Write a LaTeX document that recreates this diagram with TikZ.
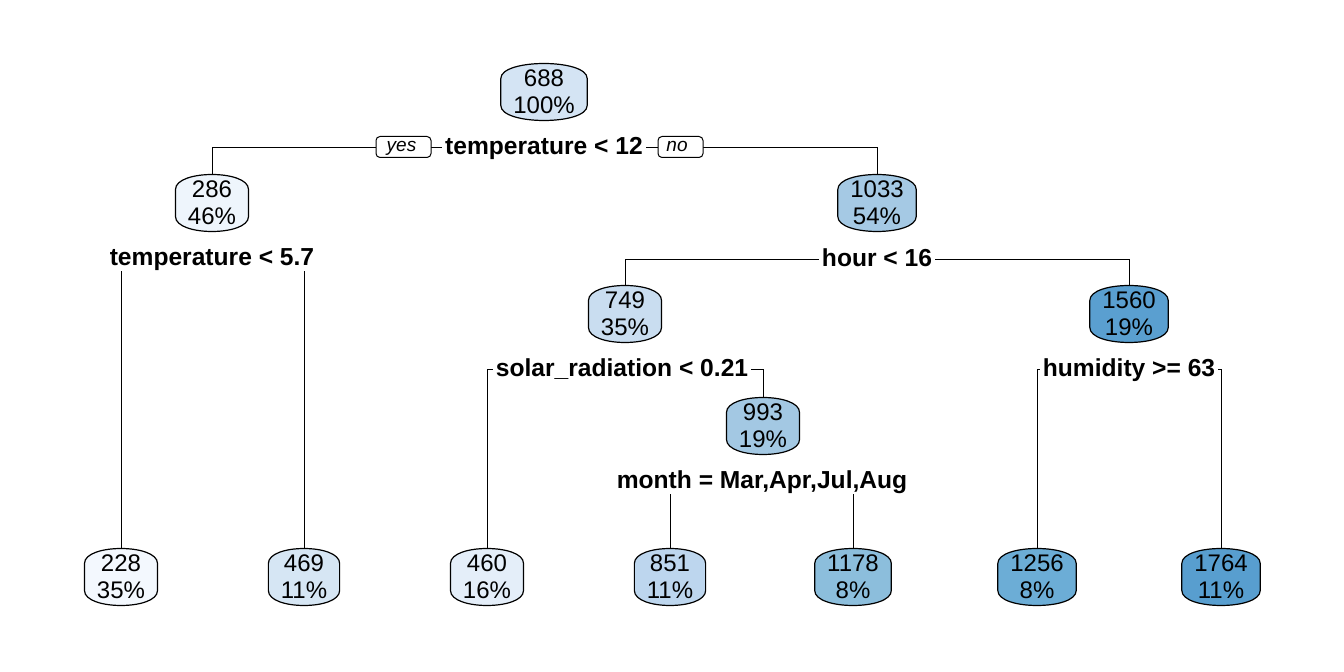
\documentclass[tikz,border=0pt]{standalone}
\usepackage{fontspec}
\setmainfont{Liberation Sans}
\usetikzlibrary{backgrounds}

\definecolor{fill228}{HTML}{F3F8FE}
\definecolor{fill286}{HTML}{EEF5FC}
\definecolor{fill460}{HTML}{E4EEF9}
\definecolor{fill469}{HTML}{D6E6F4}
\definecolor{fill688}{HTML}{D4E4F4}
\definecolor{fill749}{HTML}{C9DDF0}
\definecolor{fill851}{HTML}{BDD6EE}
\definecolor{fill993}{HTML}{A3C8E3}
\definecolor{fill1033}{HTML}{A5C9E4}
\definecolor{fill1178}{HTML}{8CBEDC}
\definecolor{fill1256}{HTML}{6CADD6}
\definecolor{fill1560}{HTML}{5A9FD0}
\definecolor{fill1764}{HTML}{589ECF}

\tikzstyle{fitted}=[align=center, inner xsep=6pt, inner ysep=0pt, minimum height=28pt, font=\fontsize{12}{13.5}\selectfont]
\tikzstyle{split}=[fill=white, inner xsep=1.5pt, inner ysep=1pt, text height=9.5pt, text depth=2pt, font=\fontsize{12.3}{14}\selectfont\bfseries]
\tikzstyle{answer}=[draw, fill=white, rounded corners=2pt, inner xsep=0pt, inner ysep=0pt, minimum height=10.5pt, text height=7pt, text depth=2pt, font=\fontsize{9.5}{11}\selectfont\itshape]

\begin{document}
\begin{tikzpicture}[x=0.5pt, y=-0.5pt, line width=0.5pt]
	\useasboundingbox (0,0) rectangle (1344,672);

	% fitted values and shares
	\node[fitted] (n688)  at ( 544, 92) {688\\100\%};
	\node[fitted] (n286)  at ( 212,203) {286\\46\%};
	\node[fitted] (n1033) at ( 877,203) {1033\\54\%};
	\node[fitted] (n749)  at ( 625,314) {749\\35\%};
	\node[fitted] (n1560) at (1129,314) {1560\\19\%};
	\node[fitted] (n993)  at ( 763,426) {993\\19\%};

	\node[fitted] (n228)  at ( 121,577) {228\\35\%};
	\node[fitted] (n469)  at ( 304,577) {469\\11\%};
	\node[fitted] (n460)  at ( 487,577) {460\\16\%};
	\node[fitted] (n851)  at ( 670,577) {851\\11\%};
	\node[fitted] (n1178) at ( 853,577) {1178\\8\%};
	\node[fitted] (n1256) at (1037,577) {1256\\8\%};
	\node[fitted] (n1764) at (1221,577) {1764\\11\%};

	% split rules
	\node[split] (temp12)  at ( 544,147) {temperature < 12};
	\node[split] (temp57)  at ( 212,258) {temperature < 5.7};
	\node[split] (hour)    at ( 877,259) {hour < 16};
	\node[split] (solar)   at ( 622,369) {solar\_radiation < 0.21};
	\node[split] (humid)   at (1129,369) {humidity >= 63};
	\node[split] (month)   at ( 762,481) {month = Mar,Apr,Jul,Aug};

	\node[answer, minimum width=27.5pt] (yes) at (403.5,147) {\hspace*{-2pt}yes};
	\node[answer, minimum width=22.5pt] (no)  at (680.5,147) {\hspace*{-3.5pt}no};

	\begin{scope}[on background layer]
		\foreach \s/\l/\r in {temp12/n286/n1033, temp57/n228/n469, hour/n749/n1560,
		                      solar/n460/n993, humid/n1256/n1764, month/n851/n1178}{
			\draw (\s.center) -| (\l.north);
			\draw (\s.center) -| (\r.north);
		}

		% barrel shaped boxes
		\foreach \n in {688, 286, 1033, 749, 1560, 993, 228, 469, 460, 851, 1178, 1256, 1764}{
			\draw[fill=fill\n, line width=0.6pt]
				([yshift=-7.5pt]n\n.north west) .. controls ([yshift=2.5pt]n\n.north west) and ([yshift=2.5pt]n\n.north east) .. ([yshift=-7.5pt]n\n.north east)
				-- ([yshift=7.5pt]n\n.south east) .. controls ([yshift=-2.5pt]n\n.south east) and ([yshift=-2.5pt]n\n.south west) .. ([yshift=7.5pt]n\n.south west)
				-- cycle;
		}
	\end{scope}
\end{tikzpicture}
\end{document}
